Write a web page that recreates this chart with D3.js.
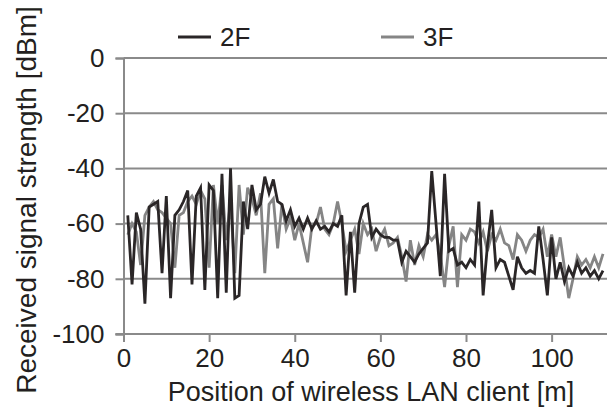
<!DOCTYPE html>
<html>
<head>
<meta charset="utf-8">
<script src="https://cdn.jsdelivr.net/npm/d3@7"></script>
<style>
  html, body { margin: 0; padding: 0; background: #fff; }
  svg { display: block; font-family: "Liberation Sans", Arial, sans-serif; }
</style>
</head>
<body>
<svg id="chart" width="607" height="409"></svg>
<script>
// Position of wireless LAN client [m] (1 m steps)
const positions = d3.range(1, 113);
const seriesNames = ["2F", "3F"];
const values2F = [
  -57,-82,-56,-62,-89,-54,-53,-52,-78,-50,
  -87,-57,-55,-52,-48,-82,-50,-47,-84,-46,
  -48,-87,-42,-85,-40,-87,-86,-52,-62,-46,
  -55,-53,-43,-49,-44,-52,-53,-59,-55,-61,
  -58,-62,-58,-62,-59,-62,-61,-63,-60,-61,
  -57,-86,-63,-85,-60,-54,-53,-65,-62,-64,
  -65,-65,-66,-66,-74,-70,-72,-74,-71,-69,
  -67,-41,-60,-79,-42,-70,-69,-75,-74,-76,
  -73,-75,-52,-86,-68,-55,-76,-73,-74,-79,
  -84,-72,-76,-78,-77,-78,-61,-73,-86,-65,
  -80,-74,-81,-76,-79,-74,-78,-76,-79,-77,
  -80,-77
];
const values3F = [
  -64,-60,-63,-75,-57,-54,-52,-55,-56,-58,
  -60,-76,-57,-56,-52,-50,-53,-48,-51,-76,
  -46,-60,-46,-66,-52,-78,-46,-64,-47,-51,
  -57,-49,-78,-53,-51,-69,-53,-62,-58,-66,
  -60,-67,-74,-61,-60,-54,-62,-64,-60,-52,
  -60,-70,-66,-62,-71,-60,-64,-62,-70,-65,
  -62,-68,-67,-65,-72,-81,-66,-75,-68,-72,
  -64,-66,-64,-71,-83,-68,-61,-83,-64,-66,
  -62,-63,-67,-63,-70,-64,-66,-62,-67,-68,
  -73,-64,-66,-70,-66,-64,-65,-62,-72,-64,
  -72,-65,-76,-87,-80,-72,-75,-73,-76,-72,
  -76,-71
];
const xTicks = [0, 20, 40, 60, 80, 100];
const yTicks = [0, -20, -40, -60, -80, -100];

const svg = d3.select("#chart");
const gridColor = "#8a8a8a";
const textColor = "#231f20";
const colors = { "2F": "#2a2627", "3F": "#858585" };
const fmt = d => String(d);

const x = d3.scaleLinear().domain([0, 112.7]).range([123.5, 606]);
const y = d3.scaleLinear().domain([-100, 0]).range([334, 58]);

// horizontal gridlines
svg.append("g").selectAll("line").data(yTicks.filter(d => d !== -100)).join("line")
  .attr("x1", x(0)).attr("x2", 607)
  .attr("y1", d => y(d)).attr("y2", d => y(d))
  .attr("stroke", gridColor).attr("stroke-width", 2);

// y axis
const yAxis = svg.append("g").attr("transform", `translate(${x(0)},0)`)
  .call(d3.axisLeft(y).tickValues(yTicks).tickSize(8).tickPadding(11).tickFormat(fmt));
yAxis.select(".domain").attr("stroke", gridColor).attr("stroke-width", 2);
yAxis.selectAll(".tick line").attr("stroke", gridColor).attr("stroke-width", 2);
yAxis.selectAll("text").attr("font-size", 26).attr("fill", textColor)
  .attr("font-family", "Liberation Sans, Arial, sans-serif");

// x axis
const xAxis = svg.append("g").attr("transform", `translate(0,${y(-100)})`)
  .call(d3.axisBottom(x).tickValues(xTicks).tickSize(8).tickPadding(7).tickFormat(fmt));
xAxis.select(".domain").attr("stroke", gridColor).attr("stroke-width", 2)
  .attr("d", `M${x(0) - 8},0H607`);
xAxis.selectAll(".tick line").attr("stroke", gridColor).attr("stroke-width", 2);
xAxis.selectAll("text").attr("font-size", 26).attr("fill", textColor)
  .attr("font-family", "Liberation Sans, Arial, sans-serif");

// lines
const line = d3.line().x((d, i) => x(positions[i])).y(d => y(d));
const series = [
  { name: "3F", values: values3F },
  { name: "2F", values: values2F }
];
svg.append("g").selectAll("path").data(series).join("path")
  .attr("d", d => line(d.values))
  .attr("fill", "none")
  .attr("stroke", d => colors[d.name])
  .attr("stroke-width", 2.8)
  .attr("stroke-linejoin", "miter");

// legend
const legendPos = { "2F": 178, "3F": 381 };
const lg = svg.append("g").selectAll("g").data(seriesNames).join("g")
  .attr("transform", d => `translate(${legendPos[d]},37)`);
lg.append("line").attr("x1", 0).attr("x2", 33).attr("y1", 0).attr("y2", 0)
  .attr("stroke", d => colors[d]).attr("stroke-width", 2.8);
lg.append("text").attr("x", 42).attr("y", 0).attr("dy", "0.35em")
  .attr("font-size", 26).attr("fill", textColor).text(d => d);

// axis titles
svg.append("text").attr("x", 371).attr("y", 401).attr("text-anchor", "middle")
  .attr("font-size", 27).attr("fill", textColor)
  .text("Position of wireless LAN client [m]");
svg.append("text").attr("transform", "translate(36,200) rotate(-90)")
  .attr("text-anchor", "middle").attr("font-size", 28).attr("fill", textColor)
  .text("Received signal strength [dBm]");
</script>
</body>
</html>
